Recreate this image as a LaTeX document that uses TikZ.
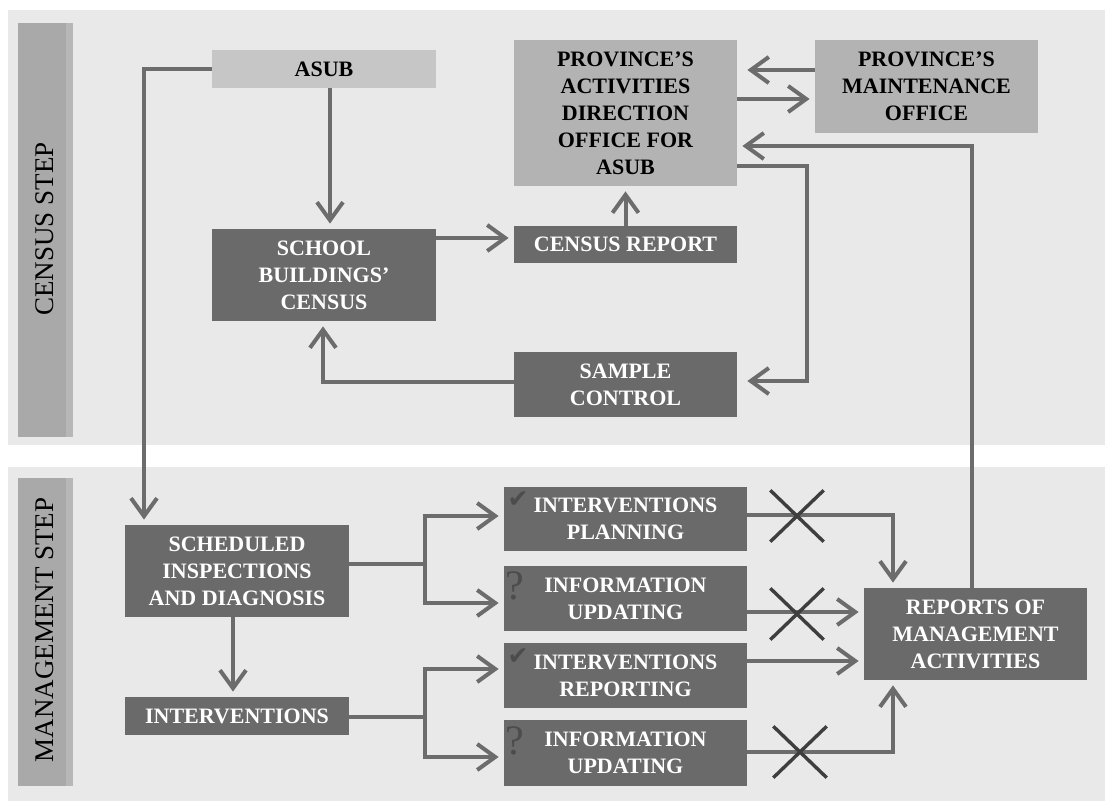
\documentclass[tikz,border=0pt]{standalone}
\usepackage{fontspec}
\setmainfont{Liberation Serif}
\newfontfamily\symfont{DejaVu Sans}
\usetikzlibrary{arrows.meta,shapes.misc}

\definecolor{pagebg}{HTML}{FFFFFF}
\definecolor{panelbg}{HTML}{E9E9E9}
\definecolor{barfill}{HTML}{A9A9A9}
\definecolor{barstrip}{HTML}{B7B7B7}
\definecolor{darkbox}{HTML}{6A6A6A}
\definecolor{lightbox}{HTML}{B3B3B3}
\definecolor{asubbox}{HTML}{C6C6C6}
\definecolor{linecol}{HTML}{6C6C6C}
\definecolor{crosscol}{HTML}{3E3E3E}
\definecolor{markcol}{HTML}{4C4C4C}

\newcommand{\bxfont}{\bfseries\fontsize{11}{13.5}\selectfont}

\tikzset{
  boxbase/.style={inner sep=0pt, align=center, font=\bxfont, minimum width=111.5pt},
  darkbx/.style={boxbase, fill=darkbox, text=white},
  lightbx/.style={boxbase, fill=lightbox, text=black},
  steplabel/.style={rotate=90, font=\fontsize{13.5}{16}\selectfont, text=black},
  plainline/.style={draw=linecol, line width=2pt},
  conn/.style={plainline, -{Straight Barb[length=9pt,width=13pt,line width=2pt]}, shorten >=2.5pt},
  crossmark/.style={cross out, draw=crosscol, line width=1.7pt, inner sep=0pt,
    minimum width=25pt, minimum height=24pt},
  tick/.style={font=\symfont\fontsize{12.5}{12.5}\selectfont, text=markcol, inner sep=0pt},
  qmark/.style={font=\fontsize{21}{21}\selectfont, text=markcol, inner sep=0pt}
}

\begin{document}
\begin{tikzpicture}[x=0.5pt, y=-0.5pt]
  % page and the two step panels
  \fill[pagebg] (0,0) rectangle (1105,801);
  \useasboundingbox (0,0) rectangle (1105,801);
  \fill[panelbg] (8,10) rectangle (1105,445);
  \fill[panelbg] (8,467) rectangle (1105,801);

  % vertical step bars
  \fill[barfill] (18,23) rectangle (66,437);
  \fill[barstrip] (66,23) rectangle (73,437);
  \fill[barfill] (18,478) rectangle (66,786);
  \fill[barstrip] (66,478) rectangle (73,786);
  \node[steplabel] (censusstep) at (45,229) {CENSUS STEP};
  \node[steplabel] (mgmtstep) at (45,630) {MANAGEMENT STEP};

  % census step boxes
  \node[lightbx, fill=asubbox, minimum width=112pt, minimum height=19pt] (asub) at (324,69) {ASUB};
  \node[darkbx, minimum width=112pt, minimum height=46pt] (census) at (324,275) {SCHOOL\\BUILDINGS'\\CENSUS};
  \node[lightbx, minimum height=73pt] (prov) at (625.5,113) {PROVINCE'S\\ACTIVITIES\\DIRECTION\\OFFICE FOR\\ASUB};
  \node[lightbx, minimum height=46.5pt] (maint) at (926.5,86.5) {PROVINCE'S\\MAINTENANCE\\OFFICE};
  \node[darkbx, minimum height=18.5pt] (report) at (625.5,244.5) {CENSUS REPORT};
  \node[darkbx, minimum height=32.5pt] (sample) at (625.5,384.5) {SAMPLE\\CONTROL};

  % management step boxes
  \node[darkbx, minimum width=112pt, minimum height=46pt] (sched) at (237,571) {SCHEDULED\\INSPECTIONS\\AND DIAGNOSIS};
  \node[darkbx, minimum width=112pt, minimum height=19pt] (interv) at (237,716) {INTERVENTIONS};
  \node[darkbx, minimum width=121.5pt, minimum height=32pt] (plan) at (625.5,519) {INTERVENTIONS\\PLANNING};
  \node[darkbx, minimum width=121.5pt, minimum height=32.5pt] (upda) at (625.5,598.5) {INFORMATION\\UPDATING};
  \node[darkbx, minimum width=121.5pt, minimum height=32.5pt] (repo) at (625.5,675.5) {INTERVENTIONS\\REPORTING};
  \node[darkbx, minimum width=121.5pt, minimum height=33pt] (updb) at (625.5,753) {INFORMATION\\UPDATING};
  \node[darkbx, minimum height=46pt] (mgmt) at (975.5,634) {REPORTS OF\\MANAGEMENT\\ACTIVITIES};

  % status marks in the box corners
  \node[tick] (chka) at (518,500) {✔};
  \node[tick] (chkb) at (518,657) {✔};
  \node[qmark] (qa) at (515,586) {?};
  \node[qmark] (qb) at (515,741) {?};

  % census step connectors
  \draw[conn] (asub.west) -| (sched.north -| 144,0);
  \draw[conn] (asub.south -| 330,0) -- (census.north -| 330,0);
  \draw[conn] (census.east |- 0,238) -- (report.west |- 0,238);
  \draw[conn] (report.north) -- (prov.south);
  \draw[conn, shorten >=5pt] (maint.west |- 0,70) -- (prov.east |- 0,70);
  \draw[conn] (prov.east |- 0,99) -- (maint.west |- 0,99);
  \coordinate (ctrlbend) at (807,166);
  \draw[conn, shorten >=5pt] (prov.east |- ctrlbend) -- (ctrlbend) |- (sample.east |- 0,381);
  \draw[conn] (sample.west |- 0,382) -| (census.south -| 323,0);
  \draw[conn] (mgmt.north -| 972,0) |- (prov.east |- 0,146);

  % management step connectors
  \coordinate (ja) at (425,564);
  \coordinate (jb) at (425,717);
  \draw[plainline] (sched.east |- ja) -- (ja);
  \draw[conn] (ja) |- (plan.west |- 0,516);
  \draw[conn] (ja) |- (upda.west |- 0,603);
  \draw[conn] (sched.south -| 233,0) -- (interv.north -| 233,0);
  \draw[plainline] (interv.east |- jb) -- (jb);
  \draw[conn] (jb) |- (repo.west |- 0,669);
  \draw[conn] (jb) |- (updb.west |- 0,757);

  \draw[conn] (plan.east |- 0,515) -| (mgmt.north -| 893,0);
  \draw[conn] (upda.east |- 0,612) -- (mgmt.west |- 0,612);
  \draw[conn] (repo.east |- 0,661) -- (mgmt.west |- 0,661);
  \draw[conn] (updb.east |- 0,752) -| (mgmt.south -| 893,0);

  % crossed-out links
  \node[crossmark] (xa) at (797,516) {};
  \node[crossmark] (xb) at (797,614) {};
  \node[crossmark] (xc) at (800,752) {};
\end{tikzpicture}
\end{document}
